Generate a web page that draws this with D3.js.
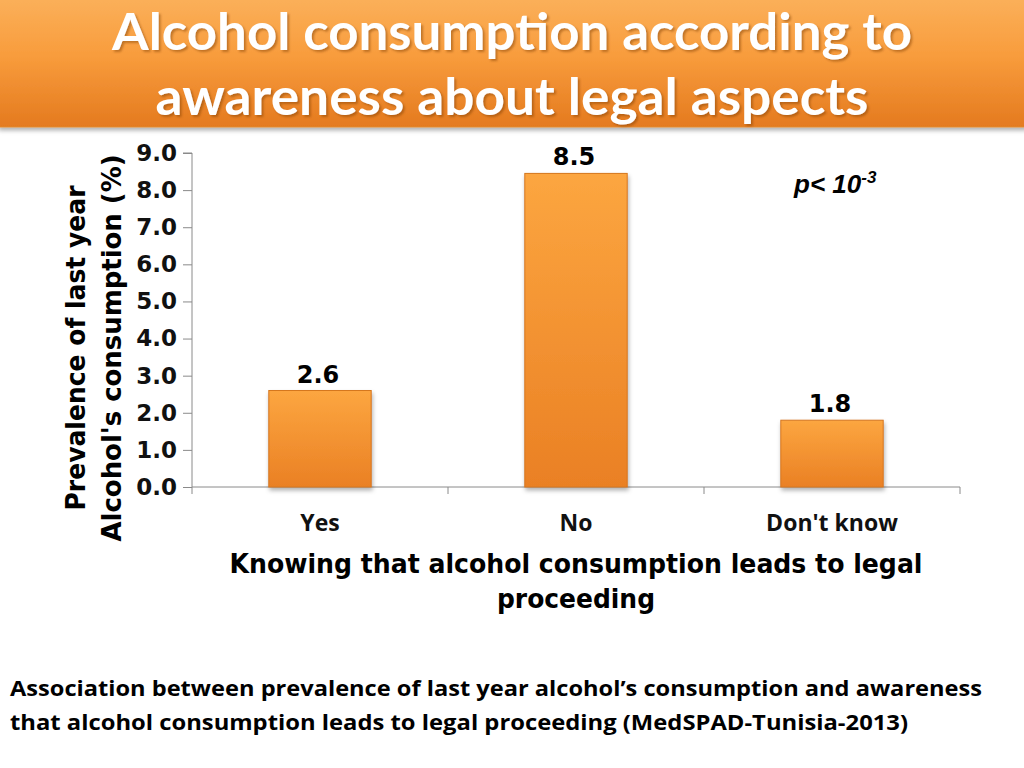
<!DOCTYPE html>
<html>
<head>
<meta charset="utf-8">
<script src="https://cdn.jsdelivr.net/npm/d3@7"></script>
<style>
  body { margin: 0; background: #fff; }
  svg { display: block; }
</style>
</head>
<body>
<div id="chart"></div>
<script>
// data
let categories = ["Yes", "No", "Don't know"];
let prevalence = [2.6, 8.45, 1.8];
let valueLabels = ["2.6", "8.5", "1.8"];
let yTicks = [0, 1, 2, 3, 4, 5, 6, 7, 8, 9];

let titleLines = ["Alcohol consumption according to", "awareness about legal aspects"];
let xTitleLines = ["Knowing that alcohol consumption leads to legal", "proceeding"];
let yTitleLines = ["Prevalence of last year", "Alcohol's consumption (%)"];
let noteLines = ["Association between prevalence of last year alcohol\u2019s consumption and awareness",
                 "that alcohol consumption leads to legal proceeding (MedSPAD-Tunisia-2013)"];

let svgWidth = 1024;
let svgHeight = 768;
let calibri = "'Open Sans', Lato, sans-serif";
let tahoma = "'DejaVu Sans', Verdana, sans-serif";

let svg = d3.select("#chart")
  .append("svg")
  .attr("width", svgWidth)
  .attr("height", svgHeight);

let defs = svg.append("defs");

// banner gradient
let bannerGrad = defs.append("linearGradient")
  .attr("id", "bannerGrad").attr("x1", 0).attr("y1", 0).attr("x2", 0).attr("y2", 1);
bannerGrad.append("stop").attr("offset", "0%").attr("stop-color", "#fbb05a");
bannerGrad.append("stop").attr("offset", "45%").attr("stop-color", "#f89c3c");
bannerGrad.append("stop").attr("offset", "100%").attr("stop-color", "#e47a1f");

// bar gradient
let barGrad = defs.append("linearGradient")
  .attr("id", "barGrad").attr("x1", 0).attr("y1", 0).attr("x2", 0).attr("y2", 1);
barGrad.append("stop").attr("offset", "0%").attr("stop-color", "#fca640");
barGrad.append("stop").attr("offset", "100%").attr("stop-color", "#ea8024");

let shadow = defs.append("filter").attr("id", "shadow")
  .attr("x", "-10%").attr("y", "-10%").attr("width", "130%").attr("height", "140%");
shadow.append("feDropShadow").attr("dx", 1).attr("dy", 3).attr("stdDeviation", 2)
  .attr("flood-color", "#000").attr("flood-opacity", 0.3);

let textShadow = defs.append("filter").attr("id", "textShadow");
textShadow.append("feDropShadow").attr("dx", 2).attr("dy", 2).attr("stdDeviation", 1)
  .attr("flood-color", "#7a3a00").attr("flood-opacity", 0.45);

// title banner
svg.append("rect")
  .attr("x", -2).attr("y", -2)
  .attr("width", 1028).attr("height", 129)
  .attr("fill", "url(#bannerGrad)")
  .attr("stroke", "#e08a30")
  .attr("filter", "url(#shadow)");

let titleLen = [800, 713];
svg.append("g")
  .selectAll("text")
  .data(titleLines)
  .join("text")
  .attr("x", 512)
  .attr("y", (d, i) => 50 + i * 65)
  .attr("text-anchor", "middle")
  .attr("fill", "#fff")
  .attr("font-family", "Lato, sans-serif")
  .attr("font-size", 52)
  .attr("font-weight", "bold")
  .attr("textLength", (d, i) => titleLen[i])
  .attr("lengthAdjust", "spacingAndGlyphs")
  .attr("filter", "url(#textShadow)")
  .text(d => d);

// scales
let xScale = d3.scaleBand().domain(categories).range([192, 960]);
let yScale = d3.scaleLinear().domain([0, 9]).range([487, 153]);
let barW = xScale.bandwidth() * 0.4;

// axes
let yAxis = d3.axisLeft(yScale).tickValues(yTicks).tickFormat(d3.format(".1f")).tickSize(9).tickPadding(6);
let gy = svg.append("g").attr("transform", "translate(192,0)").call(yAxis);
gy.selectAll("line, path").attr("stroke", "#8a8a8a");
gy.select(".domain").attr("d", "M-9,153H0V494");
gy.selectAll("text")
  .attr("font-size", 23).attr("font-weight", "bold").attr("fill", "#111")
  .style("font-family", tahoma);

let xAxis = d3.axisBottom(xScale).tickSize(0).tickPadding(28);
let gx = svg.append("g").attr("transform", "translate(0,487)").call(xAxis);
gx.select(".domain").attr("stroke", "#8a8a8a").attr("d", "M192,0H960");
gx.selectAll("text")
  .attr("font-size", 23).attr("font-weight", "bold").attr("fill", "#111")
  .style("font-family", calibri);
// tick marks on the band edges
gx.selectAll(".edge")
  .data(xScale.domain().slice(1).map(d => xScale(d)).concat([960]))
  .join("line")
  .attr("x1", d => d).attr("x2", d => d)
  .attr("y1", 0).attr("y2", 7)
  .attr("stroke", "#8a8a8a");

// bars
svg.append("g")
  .selectAll("rect")
  .data(prevalence)
  .join("rect")
  .attr("x", (d, i) => xScale(categories[i]) + (xScale.bandwidth() - barW) / 2)
  .attr("y", d => yScale(d))
  .attr("width", barW)
  .attr("height", d => yScale(0) - yScale(d))
  .attr("fill", "url(#barGrad)")
  .attr("stroke", "#d5761e")
  .attr("stroke-width", 1)
  .attr("filter", "url(#shadow)");

// value labels
svg.append("g")
  .selectAll("text")
  .data(prevalence)
  .join("text")
  .attr("x", (d, i) => xScale(categories[i]) + xScale.bandwidth() / 2 - 2)
  .attr("y", d => yScale(d) - 8)
  .attr("text-anchor", "middle")
  .attr("font-family", tahoma)
  .attr("font-size", 24)
  .attr("font-weight", "bold")
  .attr("fill", "#000")
  .text((d, i) => valueLabels[i]);

// p value
let pText = svg.append("text")
  .attr("x", 794).attr("y", 193)
  .attr("font-family", "'Liberation Sans', Arial, sans-serif")
  .attr("font-size", 26)
  .attr("font-weight", "bold")
  .attr("font-style", "italic")
  .attr("fill", "#000")
  .style("white-space", "pre");
pText.append("tspan").text("p< ");
pText.append("tspan").text("10");
pText.append("tspan").attr("dy", -10).style("font-size", "17px").text("-3");

// x title
let xTitleLen = [693, 158];
svg.append("g")
  .selectAll("text")
  .data(xTitleLines)
  .join("text")
  .attr("x", 576)
  .attr("y", (d, i) => 573 + i * 35)
  .attr("text-anchor", "middle")
  .attr("font-family", tahoma)
  .attr("font-size", 26)
  .attr("font-weight", "bold")
  .attr("fill", "#000")
  .attr("textLength", (d, i) => xTitleLen[i])
  .attr("lengthAdjust", "spacingAndGlyphs")
  .text(d => d);

// y title
let yTitleLen = [325, 387];
svg.append("g")
  .attr("transform", "translate(0,348) rotate(-90)")
  .selectAll("text")
  .data(yTitleLines)
  .join("text")
  .attr("x", 0)
  .attr("y", (d, i) => 85 + i * 36)
  .attr("text-anchor", "middle")
  .attr("font-family", tahoma)
  .attr("font-size", 26)
  .attr("font-weight", "bold")
  .attr("fill", "#000")
  .attr("textLength", (d, i) => yTitleLen[i])
  .attr("lengthAdjust", "spacingAndGlyphs")
  .text(d => d);

// footnote
let noteLen = [972, 898];
svg.append("g")
  .selectAll("text")
  .data(noteLines)
  .join("text")
  .attr("x", 10)
  .attr("y", (d, i) => 696 + i * 34)
  .attr("font-family", calibri)
  .attr("font-size", 22)
  .attr("font-weight", "bold")
  .attr("fill", "#000")
  .attr("textLength", (d, i) => noteLen[i])
  .attr("lengthAdjust", "spacingAndGlyphs")
  .text(d => d);
</script>
</body>
</html>
